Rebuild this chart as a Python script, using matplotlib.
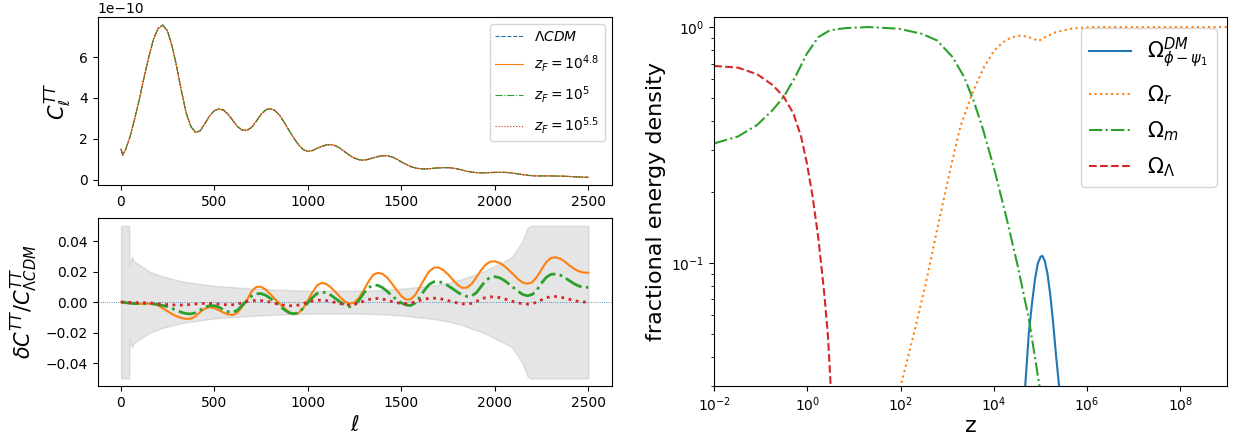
import numpy as np
import matplotlib
matplotlib.use('Agg')
from matplotlib import pyplot as plt
from matplotlib.ticker import NullLocator

# multipoles used for the spectra
ell = [2, 10, 25] + list(range(50, 2501, 25))

# LCDM TT spectrum, units of 1e-10
cl_lcdm = [1.50, 1.20, 1.45,
           2.10, 3.00, 3.95, 5.02, 6.00, 6.88, 7.42, 7.58, 7.30, 6.55,
           5.52, 4.35, 3.28, 2.62, 2.32, 2.40, 2.75, 3.12, 3.38, 3.47,
           3.42, 3.20, 2.90, 2.60, 2.43, 2.41, 2.55, 2.85, 3.18, 3.40,
           3.47, 3.38, 3.15, 2.80, 2.42, 2.05, 1.72, 1.48, 1.38, 1.42,
           1.52, 1.62, 1.69, 1.71, 1.65, 1.52, 1.35, 1.18, 1.05, 0.97,
           0.95, 0.99, 1.06, 1.12, 1.16, 1.16, 1.11, 1.00, 0.87, 0.75,
           0.64, 0.57, 0.53, 0.52, 0.53, 0.55, 0.57, 0.58, 0.58, 0.56,
           0.52, 0.47, 0.41, 0.37, 0.34, 0.33, 0.33, 0.34, 0.35, 0.35,
           0.35, 0.34, 0.31, 0.28, 0.24, 0.21, 0.19, 0.18, 0.18, 0.18,
           0.18, 0.17, 0.17, 0.16, 0.15, 0.14, 0.13, 0.12, 0.11]

# relative differences dC/C_LCDM
d_48 = [0.0, 0.0, -0.0003,
        -0.0008, -0.0010, -0.0011, -0.0011, -0.0010, -0.0012, -0.0022, -0.0040,
        -0.0060, -0.0078, -0.0093, -0.0104, -0.0110, -0.0108, -0.0093, -0.0065,
        -0.0042, -0.0033, -0.0039, -0.0053, -0.0069, -0.0081, -0.0084, -0.0068,
        -0.0030, 0.0015, 0.0070, 0.0100, 0.0101, 0.0082, 0.0052, 0.0020,
        -0.0010, -0.0040, -0.0065, -0.0077, -0.0072, -0.0040, 0.0010, 0.0065,
        0.0110, 0.0127, 0.0118, 0.0095, 0.0064, 0.0030, 0.0002, -0.0010,
        -0.0002, 0.0030, 0.0080, 0.0135, 0.0180, 0.0192, 0.0185, 0.0160,
        0.0122, 0.0080, 0.0040, 0.0017, 0.0018, 0.0048, 0.0100, 0.0155,
        0.0203, 0.0226, 0.0227, 0.0210, 0.0182, 0.0148, 0.0115, 0.0094,
        0.0095, 0.0118, 0.0160, 0.0207, 0.0245, 0.0265, 0.0268, 0.0258,
        0.0238, 0.0210, 0.0180, 0.0150, 0.0128, 0.0121, 0.0130, 0.0165,
        0.0215, 0.0262, 0.0290, 0.0294, 0.0285, 0.0265, 0.0240, 0.0218,
        0.0202, 0.0194, 0.0193]
d_50 = [0.0, 0.0, -0.0003,
        -0.0007, -0.0009, -0.0010, -0.0010, -0.0010, -0.0012, -0.0016, -0.0022,
        -0.0030, -0.0042, -0.0055, -0.0067, -0.0075, -0.0077, -0.0070, -0.0052,
        -0.0033, -0.0023, -0.0023, -0.0033, -0.0050, -0.0063, -0.0066, -0.0052,
        -0.0020, 0.0010, 0.0040, 0.0055, 0.0056, 0.0045, 0.0025, 0.0000,
        -0.0025, -0.0050, -0.0070, -0.0077, -0.0070, -0.0040, -0.0005, 0.0030,
        0.0057, 0.0066, 0.0062, 0.0045, 0.0022, 0.0000, -0.0020, -0.0030,
        -0.0020, 0.0015, 0.0060, 0.0095, 0.0111, 0.0110, 0.0095, 0.0070,
        0.0042, 0.0015, -0.0005, -0.0019, -0.0022, -0.0005, 0.0035, 0.0080,
        0.0117, 0.0134, 0.0135, 0.0125, 0.0108, 0.0088, 0.0066, 0.0048,
        0.0038, 0.0040, 0.0060, 0.0100, 0.0140, 0.0162, 0.0167, 0.0160,
        0.0143, 0.0120, 0.0095, 0.0070, 0.0050, 0.0042, 0.0050, 0.0080,
        0.0125, 0.0163, 0.0182, 0.0185, 0.0177, 0.0160, 0.0140, 0.0120,
        0.0105, 0.0098, 0.0097]
d_55 = [0.0, 0.0, 0.0,
        -0.0002, -0.0003, -0.0003, -0.0004, -0.0005, -0.0007, -0.0010, -0.0013,
        -0.0016, -0.0018, -0.0019, -0.0019, -0.0018, -0.0015, -0.0012, -0.0009,
        -0.0008, -0.0008, -0.0010, -0.0013, -0.0016, -0.0018, -0.0017, -0.0012,
        -0.0004, 0.0004, 0.0009, 0.0011, 0.0010, 0.0006, 0.0000, -0.0007,
        -0.0014, -0.0020, -0.0024, -0.0024, -0.0019, -0.0010, 0.0000, 0.0008,
        0.0012, 0.0013, 0.0010, 0.0004, -0.0003, -0.0010, -0.0016, -0.0018,
        -0.0014, -0.0005, 0.0007, 0.0017, 0.0023, 0.0024, 0.0020, 0.0013,
        0.0004, -0.0004, -0.0008, -0.0009, -0.0006, 0.0002, 0.0012, 0.0020,
        0.0025, 0.0026, 0.0024, 0.0018, 0.0010, 0.0002, -0.0005, -0.0011,
        -0.0013, -0.0008, 0.0004, 0.0018, 0.0030, 0.0035, 0.0034, 0.0030,
        0.0022, 0.0012, 0.0003, -0.0005, -0.0011, -0.0013, -0.0010, 0.0000,
        0.0015, 0.0029, 0.0036, 0.0037, 0.0033, 0.0026, 0.0018, 0.0010,
        0.0004, 0.0001, 0.0000]

# error band half-width
band_ell = [2, 45, 47, 52, 59, 70, 98, 152, 223, 330, 491, 670, 848, 1027,
            1221, 1295, 1400, 1500, 1671, 1761, 1815, 1941, 2031, 2085, 2103,
            2148, 2175, 2193, 2500]
band = [0.05, 0.05, 0.0246, 0.026, 0.0297, 0.027, 0.0246, 0.0202, 0.0169,
        0.0136, 0.0108, 0.0092, 0.0081, 0.0075, 0.0075, 0.0076, 0.0080, 0.0088,
        0.0110, 0.0130, 0.0147, 0.0202, 0.0257, 0.0290, 0.0316, 0.0400, 0.0488,
        0.05, 0.05]

# fractional energy densities vs redshift
z_lam = [0.01, 0.032, 0.083, 0.18, 0.31, 0.5, 0.73, 0.97, 1.29, 1.72, 2.28, 2.75, 3.15, 3.4]
om_lam = [0.684, 0.673, 0.631, 0.567, 0.506, 0.43, 0.343, 0.265, 0.191, 0.126, 0.075, 0.049, 0.030, 0.025]

z_m = [0.01, 0.032, 0.083, 0.18, 0.31, 0.55, 0.97, 1.72, 3.0, 6.5, 20, 91, 280, 600,
       1290, 2290, 3630, 5890, 1.02e4, 1.82e4, 3.24e4, 5.6e4, 9.5e4, 1.1e5]
om_m = [0.321, 0.343, 0.384, 0.445, 0.506, 0.615, 0.771, 0.907, 0.968, 0.99, 1.0, 0.984,
        0.937, 0.878, 0.747, 0.615, 0.49, 0.366, 0.249, 0.158, 0.097, 0.058, 0.030, 0.025]

z_r = [90, 100, 195, 347, 603, 1070, 1900, 3310, 5890, 1.02e4, 1.82e4, 3.24e4, 5.1e4,
       6.9e4, 9.1e4, 1.2e5, 2.14e5, 4.6e5, 1.17e6, 1e7, 1e9]
om_r = [0.025, 0.030, 0.0506, 0.082, 0.138, 0.232, 0.378, 0.514, 0.667, 0.797, 0.884,
        0.919, 0.913, 0.893, 0.873, 0.902, 0.952, 0.984, 1.0, 1.0, 1.0]

z_dm = [4.4e4, 4.7e4, 5.6e4, 6.6e4, 7.6e4, 8.7e4, 1.0e5, 1.1e5, 1.23e5, 1.41e5,
        1.62e5, 1.86e5, 2.14e5, 2.5e5, 2.6e5]
om_dm = [0.025, 0.030, 0.050, 0.068, 0.085, 0.099, 0.106, 0.107, 0.102, 0.090,
         0.073, 0.056, 0.041, 0.030, 0.025]

ell = np.array(ell)
lcdm = np.array(cl_lcdm) * 1e-10
deltas = [np.array(d_48), np.array(d_50), np.array(d_55)]

fig = plt.figure(figsize=(12.34, 4.37), dpi=100)
ax1 = fig.add_axes([0.0792, 0.5767, 0.4165, 0.3838])
ax2 = fig.add_axes([0.0792, 0.1167, 0.4165, 0.3838])
ax3 = fig.add_axes([0.5788, 0.1167, 0.4155, 0.8437])

labels = [r'$z_F=10^{4.8}$', r'$z_F=10^{5}$', r'$z_F=10^{5.5}$']
styles = ['-', '-.', ':']
colors = ['C1', 'C2', 'C3']

ax1.plot(ell, lcdm, '--', color='C0', lw=0.8, label=r'$\Lambda CDM$')
for d, lab, ls, c in zip(deltas, labels, styles, colors):
    ax1.plot(ell, lcdm * (1 + d), ls, color=c, lw=0.8, label=lab)
ax1.set_ylabel(r'$C_\ell^{TT}$', fontsize=15)
ax1.legend(loc='upper right', fontsize=10, labelspacing=0.7)

band = np.array(band)
ax2.fill_between(band_ell, -band, band, color='gray', alpha=0.2)
ax2.axhline(0, color='C0', ls=':', lw=0.6)
widths = [1.5, 2, 2]
for d, ls, c, w in zip(deltas, styles, colors, widths):
    ax2.plot(ell, d, ls, color=c, lw=w)
ax2.set_xlabel(r'$\ell$', fontsize=15)
ax2.set_ylabel(r'$\delta C^{TT}/C^{TT}_{\Lambda CDM}$', fontsize=15)

ax3.plot(z_dm, om_dm, '-', color='C0', lw=1.5, label=r'$\Omega^{DM}_{\phi-\psi_1}$')
ax3.plot(z_r, om_r, ':', color='C1', lw=1.5, label=r'$\Omega_r$')
ax3.plot(z_m, om_m, '-.', color='C2', lw=1.5, label=r'$\Omega_m$')
ax3.plot(z_lam, om_lam, '--', color='C3', lw=1.5, label=r'$\Omega_\Lambda$')
ax3.set_xscale('log')
ax3.set_yscale('log')
ax3.set_xlim(1e-2, 1e9)
ax3.set_ylim(0.03, 1.1)
ax3.set_xticks([1e-2, 1e0, 1e2, 1e4, 1e6, 1e8])
ax3.xaxis.set_minor_locator(NullLocator())
ax3.set_xlabel('z', fontsize=16, labelpad=1)
ax3.set_ylabel('fractional energy density', fontsize=16)
ax3.legend(loc='upper right', fontsize=15, labelspacing=0.6)

plt.savefig('out.png', dpi=100)
